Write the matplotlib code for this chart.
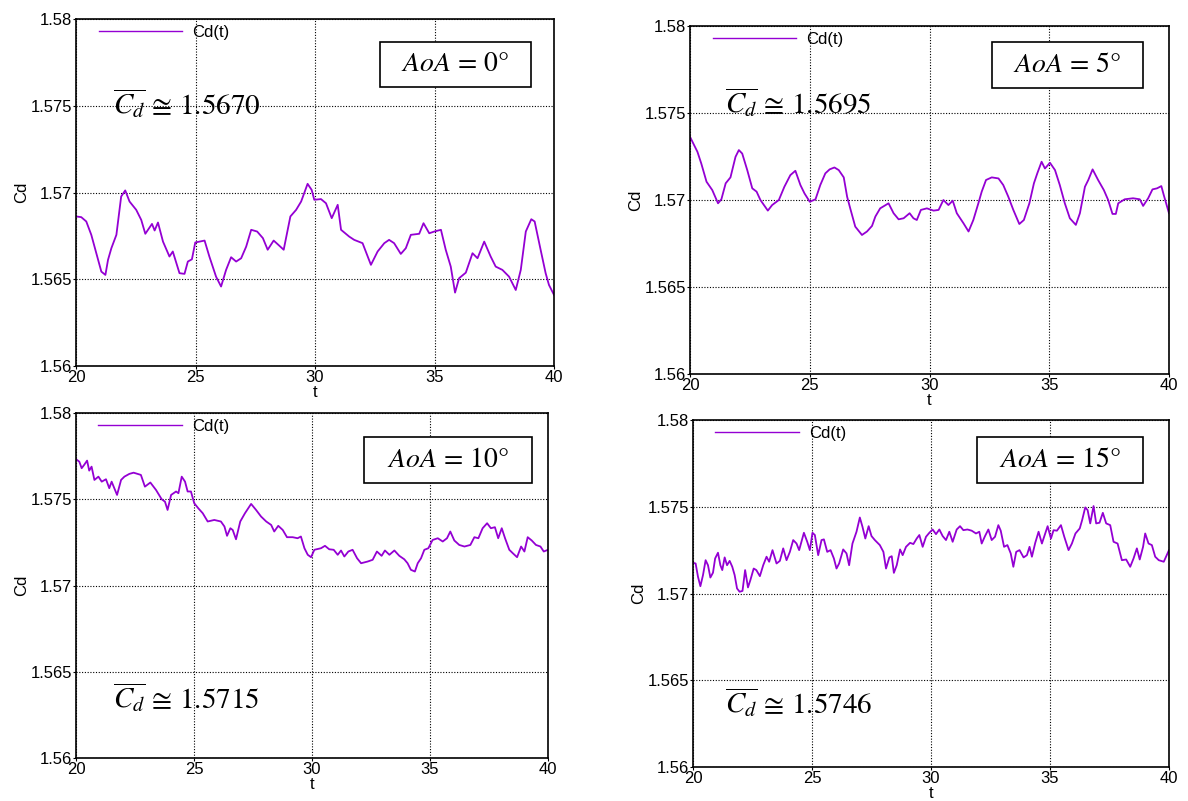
"""
Cd(t) time histories for four angles of attack
"""

import matplotlib
matplotlib.use("Agg")
import matplotlib.pyplot as plt
from matplotlib.patches import Rectangle

plt.rcParams['font.family'] = ['Liberation Sans', 'DejaVu Sans']
plt.rcParams['mathtext.fontset'] = 'stix'

# ============ data ============
t0 = [20.00, 20.22, 20.43, 20.64, 20.85, 21.06, 21.23, 21.34, 21.48, 21.69,
      21.89, 22.06, 22.24, 22.52, 22.73, 22.90, 23.18, 23.29, 23.43, 23.64,
      23.91, 24.05, 24.33, 24.54, 24.68, 24.85, 24.99, 25.17, 25.38, 25.58,
      25.86, 26.07, 26.28, 26.49, 26.70, 26.91, 27.12, 27.33, 27.58, 27.82,
      28.02, 28.27, 28.47, 28.69, 28.97, 29.21, 29.42, 29.69, 29.86, 29.97,
      30.25, 30.46, 30.70, 30.95, 31.09, 31.43, 31.64, 31.99, 32.34, 32.62,
      32.90, 33.10, 33.31, 33.59, 33.80, 34.01, 34.36, 34.54, 34.78, 34.99,
      35.27, 35.47, 35.68, 35.86, 36.03, 36.31, 36.59, 36.80, 37.08, 37.35,
      37.56, 37.84, 38.12, 38.40, 38.61, 38.82, 39.05, 39.19, 39.44, 39.65,
      39.79, 40.00]
cd0 = [1.56862, 1.56858, 1.56833, 1.56756, 1.56650, 1.56544, 1.56525, 1.56612, 1.56679, 1.56756,
       1.56977, 1.57012, 1.56948, 1.56900, 1.56842, 1.56762, 1.56819, 1.56781, 1.56827, 1.56717,
       1.56631, 1.56660, 1.56535, 1.56531, 1.56602, 1.56615, 1.56712, 1.56717, 1.56723, 1.56631,
       1.56515, 1.56458, 1.56554, 1.56627, 1.56602, 1.56621, 1.56688, 1.56785, 1.56775, 1.56737,
       1.56670, 1.56723, 1.56698, 1.56670, 1.56862, 1.56900, 1.56948, 1.57050, 1.57015, 1.56958,
       1.56962, 1.56938, 1.56852, 1.56929, 1.56785, 1.56746, 1.56727, 1.56708, 1.56583, 1.56660,
       1.56708, 1.56727, 1.56708, 1.56646, 1.56679, 1.56756, 1.56762, 1.56823, 1.56765, 1.56775,
       1.56785, 1.56670, 1.56573, 1.56423, 1.56506, 1.56538, 1.56650, 1.56621, 1.56717, 1.56631,
       1.56573, 1.56554, 1.56515, 1.56438, 1.56554, 1.56775, 1.56846, 1.56833, 1.56670, 1.56535,
       1.56467, 1.56410]

t5 = [20.00, 20.31, 20.47, 20.69, 20.93, 21.17, 21.31, 21.49, 21.69, 21.90,
      22.04, 22.18, 22.39, 22.60, 22.78, 22.94, 23.25, 23.43, 23.71, 23.94,
      24.19, 24.40, 24.61, 24.78, 25.00, 25.24, 25.44, 25.65, 25.83, 26.03,
      26.21, 26.42, 26.56, 26.69, 26.90, 27.18, 27.39, 27.60, 27.74, 27.94,
      28.29, 28.50, 28.71, 28.92, 29.17, 29.33, 29.47, 29.64, 29.89, 30.17,
      30.38, 30.58, 30.79, 30.97, 31.14, 31.42, 31.63, 31.83, 32.04, 32.18,
      32.36, 32.60, 32.88, 33.08, 33.29, 33.50, 33.75, 33.94, 34.17, 34.36,
      34.50, 34.68, 34.82, 35.03, 35.24, 35.44, 35.65, 35.86, 36.11, 36.28,
      36.49, 36.63, 36.81, 37.04, 37.28, 37.46, 37.64, 37.78, 37.88, 38.15,
      38.50, 38.78, 38.92, 39.13, 39.31, 39.50, 39.68, 39.78, 40.00]
cd5 = [1.57363, 1.57277, 1.57210, 1.57105, 1.57057, 1.56981, 1.57004, 1.57096, 1.57130, 1.57248,
       1.57287, 1.57267, 1.57172, 1.57067, 1.57048, 1.57000, 1.56939, 1.56971, 1.57000, 1.57076,
       1.57143, 1.57168, 1.57086, 1.57038, 1.56990, 1.57004, 1.57086, 1.57153, 1.57176, 1.57187,
       1.57172, 1.57130, 1.57019, 1.56952, 1.56847, 1.56799, 1.56819, 1.56851, 1.56905, 1.56952,
       1.56981, 1.56924, 1.56889, 1.56895, 1.56924, 1.56895, 1.56885, 1.56943, 1.56952, 1.56939,
       1.56943, 1.57000, 1.56971, 1.56996, 1.56924, 1.56866, 1.56819, 1.56885, 1.56981, 1.57048,
       1.57115, 1.57130, 1.57124, 1.57086, 1.57019, 1.56943, 1.56862, 1.56885, 1.56981, 1.57096,
       1.57153, 1.57220, 1.57181, 1.57214, 1.57172, 1.57086, 1.56981, 1.56895, 1.56857, 1.56924,
       1.57076, 1.57115, 1.57176, 1.57115, 1.57057, 1.57000, 1.56920, 1.56920, 1.56981, 1.57004,
       1.57010, 1.57004, 1.56966, 1.57010, 1.57061, 1.57067, 1.57080, 1.57029, 1.56924]

t10 = [20.00, 20.14, 20.24, 20.35, 20.47, 20.56, 20.66, 20.78, 20.95, 21.09,
       21.27, 21.41, 21.51, 21.74, 21.91, 22.05, 22.26, 22.44, 22.61, 22.75,
       22.92, 23.15, 23.39, 23.63, 23.77, 23.88, 24.03, 24.24, 24.34, 24.48,
       24.62, 24.73, 24.87, 25.01, 25.18, 25.37, 25.58, 25.86, 26.14, 26.29,
       26.40, 26.54, 26.64, 26.78, 26.96, 27.16, 27.42, 27.63, 27.84, 28.06,
       28.27, 28.40, 28.57, 28.76, 28.94, 29.18, 29.39, 29.53, 29.68, 29.82,
       29.96, 30.10, 30.38, 30.55, 30.73, 30.92, 31.09, 31.23, 31.37, 31.54,
       31.72, 31.91, 32.08, 32.36, 32.57, 32.75, 32.95, 33.09, 33.28, 33.49,
       33.70, 33.91, 34.05, 34.19, 34.36, 34.48, 34.62, 34.76, 34.93, 35.11,
       35.33, 35.54, 35.72, 35.86, 36.03, 36.24, 36.46, 36.71, 36.88, 37.05,
       37.23, 37.42, 37.58, 37.75, 37.89, 38.04, 38.18, 38.36, 38.51, 38.69,
       38.86, 39.00, 39.14, 39.31, 39.49, 39.68, 39.82, 40.00]
cd10 = [1.57732, 1.57718, 1.57680, 1.57700, 1.57724, 1.57666, 1.57689, 1.57612, 1.57631, 1.57602,
        1.57616, 1.57564, 1.57602, 1.57525, 1.57612, 1.57631, 1.57647, 1.57654, 1.57647, 1.57641,
        1.57573, 1.57597, 1.57554, 1.57500, 1.57486, 1.57438, 1.57525, 1.57545, 1.57535, 1.57631,
        1.57602, 1.57545, 1.57545, 1.57477, 1.57448, 1.57419, 1.57371, 1.57380, 1.57371, 1.57342,
        1.57288, 1.57332, 1.57322, 1.57268, 1.57371, 1.57419, 1.57473, 1.57438, 1.57400, 1.57371,
        1.57351, 1.57313, 1.57346, 1.57322, 1.57280, 1.57280, 1.57274, 1.57284, 1.57216, 1.57178,
        1.57164, 1.57207, 1.57216, 1.57230, 1.57210, 1.57207, 1.57178, 1.57203, 1.57168, 1.57197,
        1.57207, 1.57158, 1.57129, 1.57139, 1.57149, 1.57197, 1.57172, 1.57203, 1.57178, 1.57203,
        1.57172, 1.57152, 1.57129, 1.57091, 1.57081, 1.57129, 1.57158, 1.57207, 1.57216, 1.57264,
        1.57274, 1.57255, 1.57274, 1.57313, 1.57261, 1.57235, 1.57226, 1.57235, 1.57280, 1.57274,
        1.57332, 1.57361, 1.57332, 1.57338, 1.57274, 1.57332, 1.57274, 1.57207, 1.57187, 1.57164,
        1.57226, 1.57197, 1.57280, 1.57261, 1.57235, 1.57226, 1.57197, 1.57207]

t15 = [20.00, 20.11, 20.21, 20.31, 20.42, 20.53, 20.63, 20.73, 20.84, 20.93,
       21.05, 21.15, 21.23, 21.33, 21.43, 21.54, 21.65, 21.75, 21.85, 21.96,
       22.08, 22.19, 22.31, 22.41, 22.55, 22.66, 22.81, 22.95, 23.09, 23.20,
       23.34, 23.51, 23.65, 23.79, 23.93, 24.07, 24.21, 24.35, 24.46, 24.66,
       24.80, 24.91, 25.02, 25.12, 25.26, 25.40, 25.50, 25.64, 25.78, 25.92,
       26.03, 26.14, 26.31, 26.45, 26.56, 26.70, 26.87, 27.01, 27.12, 27.24,
       27.38, 27.50, 27.64, 27.85, 28.00, 28.11, 28.25, 28.35, 28.44, 28.56,
       28.70, 28.81, 28.95, 29.12, 29.26, 29.40, 29.51, 29.65, 29.79, 29.93,
       30.07, 30.21, 30.35, 30.49, 30.63, 30.77, 30.91, 31.08, 31.22, 31.36,
       31.53, 31.71, 31.89, 32.03, 32.13, 32.27, 32.41, 32.55, 32.69, 32.83,
       32.93, 33.07, 33.21, 33.35, 33.46, 33.58, 33.72, 33.89, 34.03, 34.14,
       34.24, 34.38, 34.52, 34.66, 34.80, 34.90, 35.04, 35.15, 35.29, 35.46,
       35.60, 35.78, 35.92, 36.07, 36.25, 36.35, 36.48, 36.58, 36.69, 36.83,
       36.94, 37.08, 37.22, 37.36, 37.53, 37.67, 37.84, 38.02, 38.20, 38.37,
       38.51, 38.65, 38.77, 38.91, 39.00, 39.14, 39.28, 39.42, 39.57, 39.78,
       40.00]
cd15 = [1.57177, 1.57173, 1.57096, 1.57042, 1.57106, 1.57192, 1.57163, 1.57092, 1.57120, 1.57202,
        1.57235, 1.57163, 1.57135, 1.57208, 1.57163, 1.57188, 1.57154, 1.57106, 1.57029, 1.57010,
        1.57015, 1.57135, 1.57035, 1.57077, 1.57144, 1.57135, 1.57100, 1.57163, 1.57212, 1.57183,
        1.57250, 1.57173, 1.57188, 1.57260, 1.57192, 1.57240, 1.57308, 1.57288, 1.57250, 1.57350,
        1.57298, 1.57250, 1.57350, 1.57337, 1.57221, 1.57308, 1.57312, 1.57240, 1.57250, 1.57202,
        1.57144, 1.57173, 1.57254, 1.57231, 1.57163, 1.57288, 1.57356, 1.57438, 1.57385, 1.57317,
        1.57388, 1.57331, 1.57308, 1.57279, 1.57240, 1.57144, 1.57208, 1.57215, 1.57119, 1.57163,
        1.57254, 1.57221, 1.57269, 1.57292, 1.57285, 1.57317, 1.57337, 1.57269, 1.57327, 1.57350,
        1.57369, 1.57342, 1.57369, 1.57331, 1.57308, 1.57356, 1.57298, 1.57369, 1.57388, 1.57365,
        1.57369, 1.57362, 1.57346, 1.57356, 1.57288, 1.57331, 1.57369, 1.57308, 1.57327, 1.57394,
        1.57362, 1.57269, 1.57279, 1.57231, 1.57154, 1.57240, 1.57250, 1.57208, 1.57221, 1.57269,
        1.57212, 1.57292, 1.57356, 1.57288, 1.57346, 1.57388, 1.57317, 1.57365, 1.57362, 1.57394,
        1.57327, 1.57250, 1.57288, 1.57346, 1.57375, 1.57423, 1.57496, 1.57481, 1.57404, 1.57504,
        1.57404, 1.57408, 1.57465, 1.57404, 1.57394, 1.57298, 1.57288, 1.57192, 1.57196, 1.57154,
        1.57202, 1.57260, 1.57196, 1.57269, 1.57346, 1.57288, 1.57279, 1.57212, 1.57192, 1.57183,
        1.57250]

angles = [0, 5, 10, 15]
cd_means = ["1.5670", "1.5695", "1.5715", "1.5746"]
x_ticks = [20, 25, 30, 35, 40]
y_ticks = [1.56, 1.565, 1.57, 1.575, 1.58]
y_tick_labels = ["1.56", "1.565", "1.57", "1.575", "1.58"]

# ============ layout (pixels of the reference -> fractions) ============
W, H = 1188, 801
LINE_COLOR = '#9400D3'

# axes rectangle: left, right, top, bottom in pixels
axes_px = [(76, 554, 19, 366),
           (690, 1169, 26, 374),
           (76, 548, 413, 758),
           (693, 1169, 420, 767)]
# mean-value text position (data coords, left edge / vertical centre)
mean_pos = [(21.55, 1.5751), (21.45, 1.5756), (21.55, 1.5635), (21.35, 1.5637)]
# AoA box: centre x, centre y, width, height (axes fraction)
box_geom = [(0.794, 0.870, 0.316, 0.130),
            (0.788, 0.888, 0.315, 0.132),
            (0.788, 0.864, 0.356, 0.133),
            (0.771, 0.885, 0.349, 0.133)]


def draw_panel(fig, i, t, cd):
    l, r, top, bot = axes_px[i]
    ax = fig.add_axes([l / W, 1 - bot / H, (r - l) / W, (bot - top) / H])

    ax.plot(t, cd, color=LINE_COLOR, lw=1.3, label='Cd(t)')

    ax.set_xlim(20, 40)
    ax.set_ylim(1.56, 1.58)
    ax.set_xticks(x_ticks)
    ax.set_yticks(y_ticks)
    ax.set_yticklabels(y_tick_labels)
    ax.tick_params(labelsize=12, length=2, width=0.8, pad=1)
    ax.grid(True, color='black', linestyle=(0, (1, 1.5)), linewidth=0.8)
    for s in ax.spines.values():
        s.set_linewidth(1.2)

    ax.set_xlabel('t', fontsize=12, labelpad=0)
    ax.set_ylabel('Cd', fontsize=12, labelpad=1)

    leg = ax.legend(loc='upper left', bbox_to_anchor=(0.035, 1.0), frameon=False,
                    fontsize=12, handlelength=5.0, handletextpad=0.6,
                    borderaxespad=0.1, borderpad=0.25)
    leg.get_lines()[0].set_linewidth(1.0)

    # mean value
    mx, my = mean_pos[i]
    ax.text(mx, my, r'$\overline{C_d}\,\cong\,' + cd_means[i] + '$',
            fontsize=21, ha='left', va='center')

    # angle of attack box
    cx, cy, bw, bh = box_geom[i]
    ax.add_patch(Rectangle((cx - bw / 2, cy - bh / 2), bw, bh, transform=ax.transAxes,
                           facecolor='white', edgecolor='black', lw=1.2, zorder=5))
    ax.text(cx, cy, r'$AoA\,=\,%d°$' % angles[i], transform=ax.transAxes,
            fontsize=20, ha='center', va='center', zorder=6)
    return ax


fig = plt.figure(figsize=(W / 100, H / 100), dpi=100)
for i, (t, cd) in enumerate([(t0, cd0), (t5, cd5), (t10, cd10), (t15, cd15)]):
    draw_panel(fig, i, t, cd)

fig.savefig('out.png', dpi=100)
